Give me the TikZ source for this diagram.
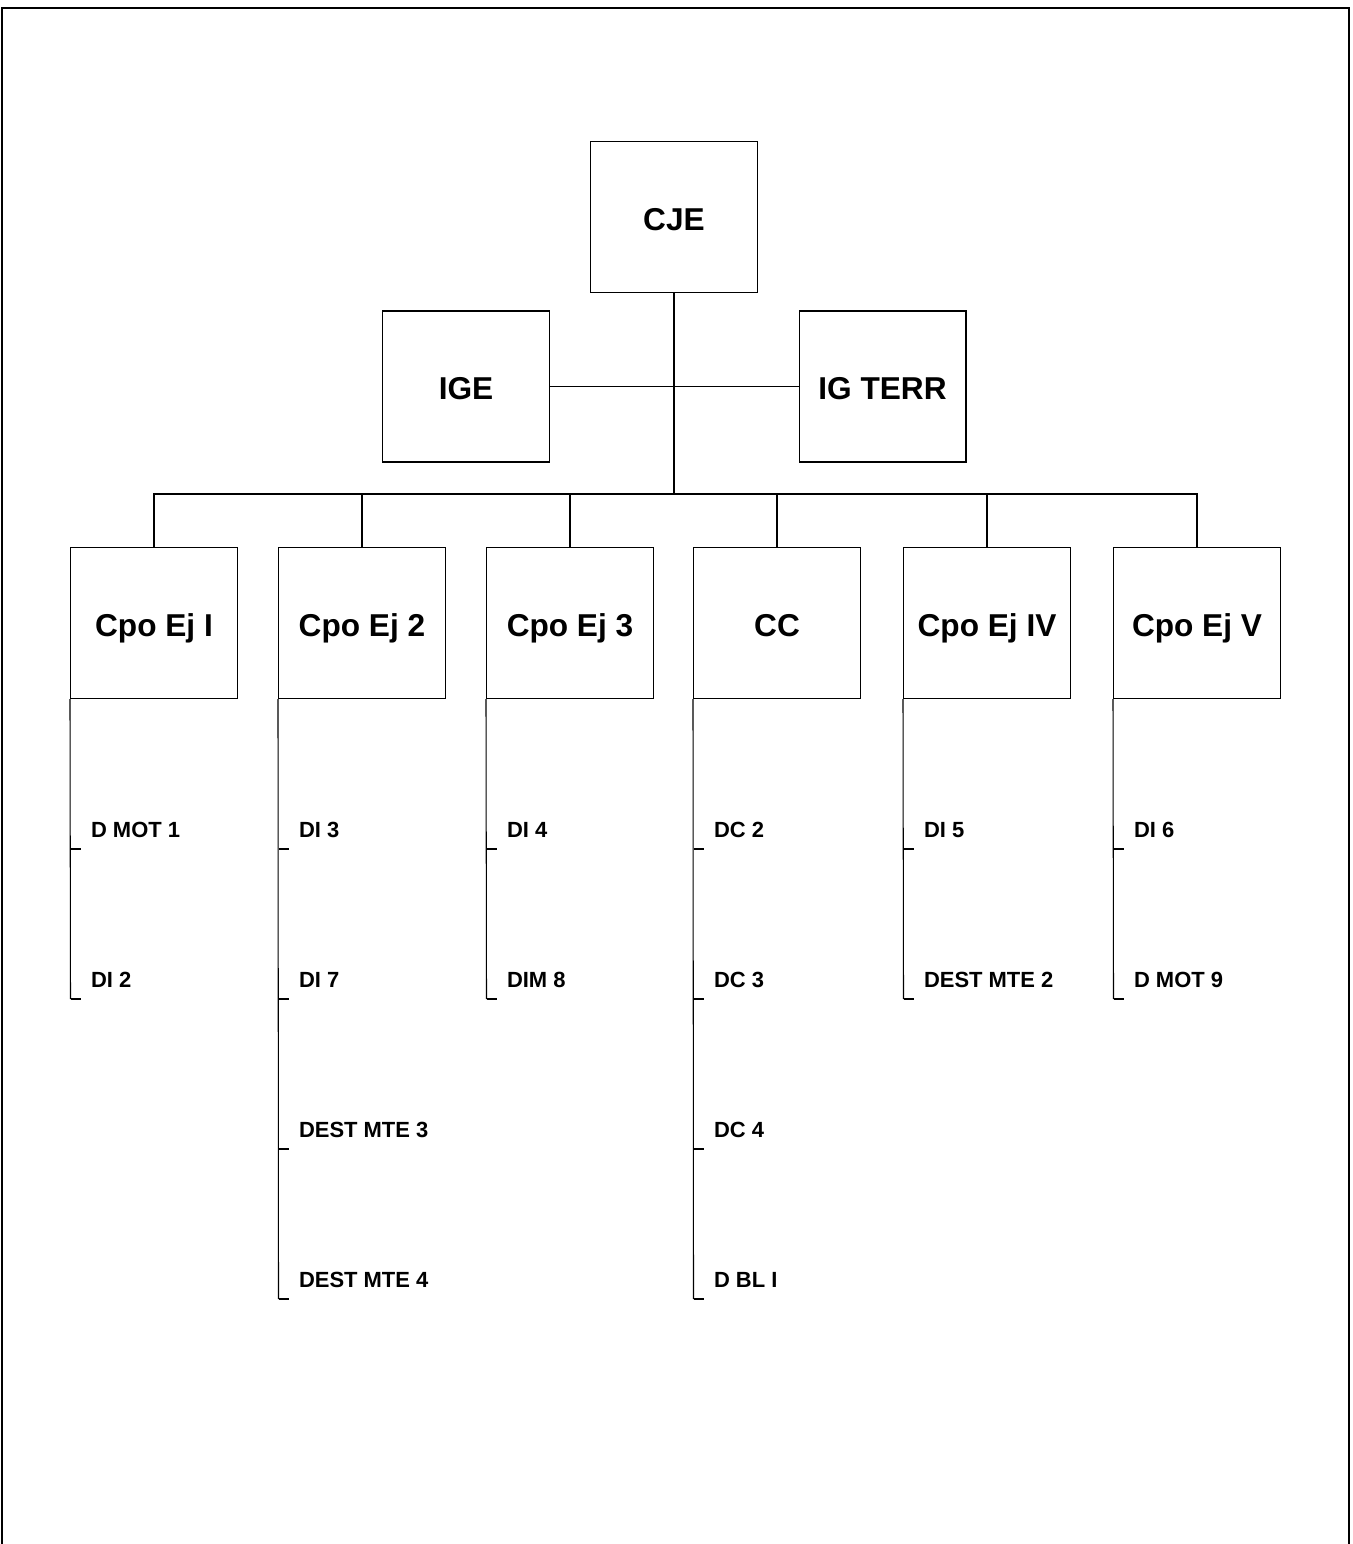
\documentclass[tikz,border=0pt]{standalone}
\usepackage{fontspec}
\setmainfont{Liberation Sans}
\begin{document}
\begin{tikzpicture}[x=0.02cm,y=-0.02cm,line width=0.6pt,
  box/.style={draw, minimum width=3.34cm, minimum height=3.02cm, inner sep=0pt,
    text height=15pt, text depth=0pt,
    font=\fontsize{18}{21}\selectfont\bfseries},
  leaf/.style={anchor=base west, inner sep=0pt,
    font=\fontsize{12.5}{15}\selectfont\bfseries}]
\useasboundingbox (0,0) rectangle (1352,1544);
% Frame, open at the bottom
\draw (2,1544) -- (2,8) -- (1349,8) -- (1349,1544);

% Top of the chart
\node[box] (cje) at (674,217) {CJE};
\node[box] (ige) at (466,386.5) {IGE};
\node[box] (igterr) at (882.5,386.5) {IG TERR};
\coordinate (bus) at (674,494);
\draw (cje.south) -- (bus);
\draw (ige.east) -- (igterr.west);

% Second row
\node[box] (ej1) at (154,623) {Cpo Ej I};
\node[box] (ej2) at (362,623) {Cpo Ej 2};
\node[box] (ej3) at (570,623) {Cpo Ej 3};
\node[box] (cc)  at (777,623) {CC};
\node[box] (ej4) at (987,623) {Cpo Ej IV};
\node[box] (ej5) at (1197,623) {Cpo Ej V};
\draw (ej1.north) |- (bus) -| (ej5.north);
\foreach \c in {ej2,ej3,cc,ej4}
  \draw (\c.north) -- (\c.north |- bus);

% Subordinate units
\foreach \c/\x/\n/\labs in {ej1/70.5/2/{D MOT 1,DI 2},
    ej2/278.5/4/{DI 3,DI 7,DEST MTE 3,DEST MTE 4},
    ej3/486.5/2/{DI 4,DIM 8},
    cc/693.5/4/{DC 2,DC 3,DC 4,D BL I},
    ej4/903.5/2/{DI 5,DEST MTE 2},
    ej5/1113.5/2/{DI 6,D MOT 9}}{
  \foreach \lab [count=\i] in \labs {
    \node[leaf] (\c-\i) at (\x+20,{837+150*(\i-1)}) {\lab};
    \coordinate (\c-t\i) at (\x,{849+150*(\i-1)});
    \draw (\c-t\i) -- ++(10,0);
  }
  \draw (\c.south west) -- (\c-t\n);
}
\end{tikzpicture}
\end{document}
